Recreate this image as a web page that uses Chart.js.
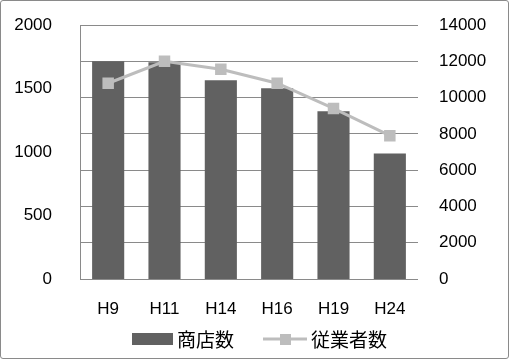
<!DOCTYPE html>
<html>
<head>
<meta charset="utf-8">
<script src="https://cdn.jsdelivr.net/npm/chart.js@4/dist/chart.umd.min.js"></script>
<style>
  html, body { margin: 0; padding: 0; background: #fff; }
  #wrap { position: relative; width: 509px; height: 359px; box-sizing: border-box; border: 1px solid #8a8a8a; border-radius: 3px; }
  canvas { display: block; }
</style>
</head>
<body>
<div id="wrap"><canvas id="c" width="507" height="357"></canvas></div>
<script>
// --- data ---
const categories = ["H9", "H11", "H14", "H16", "H19", "H24"];
const shopCounts = [1715, 1707, 1565, 1502, 1320, 988];        // 商店数 (left axis)
const workerCounts = [10790, 12000, 11560, 10790, 9400, 7900]; // 従業者数 (right axis)
const seriesNames = ["商店数", "従業者数"];

const FONT = "'Liberation Sans', 'Noto Sans CJK JP', sans-serif";
const BAR_COLOR = "#616161";
const LINE_COLOR = "#bdbdbd";

// draws the legend underneath (bar swatch + line with square marker)
const bottomLegend = {
    id: "bottomLegend",
    afterDraw(chart) {
        const ctx = chart.ctx;
        const y = 338;
        ctx.save();
        ctx.font = "19px 'Noto Sans CJK JP', sans-serif";
        ctx.textBaseline = "middle";

        // bar item
        ctx.fillStyle = BAR_COLOR;
        ctx.fillRect(131, y - 6, 41, 12);
        ctx.fillStyle = "#000";
        ctx.fillText(seriesNames[0], 176, y + 1);

        // line item
        ctx.strokeStyle = LINE_COLOR;
        ctx.lineWidth = 3;
        ctx.beginPath();
        ctx.moveTo(262, y);
        ctx.lineTo(306, y);
        ctx.stroke();
        ctx.fillStyle = LINE_COLOR;
        ctx.fillRect(279, y - 5, 11, 11);
        ctx.fillStyle = "#000";
        ctx.fillText(seriesNames[1], 310, y + 1);
        ctx.restore();
    }
};

const plain = (v) => String(v);

// fixed axis width, and don't let the tick padding push the plot area down
const fixAxis = (w) => (s) => { s.width = w; s.paddingTop = 0; s.paddingBottom = 0; };

new Chart(document.getElementById("c"), {
    data: {
        labels: categories,
        datasets: [
            {
                type: "line",
                label: seriesNames[1],
                data: workerCounts,
                yAxisID: "y2",
                borderColor: LINE_COLOR,
                backgroundColor: LINE_COLOR,
                borderWidth: 3,
                pointStyle: "rect",
                pointRadius: 6,
                pointHoverRadius: 6,
                tension: 0,
                order: 0
            },
            {
                type: "bar",
                label: seriesNames[0],
                data: shopCounts,
                yAxisID: "y",
                backgroundColor: BAR_COLOR,
                categoryPercentage: 1,
                barPercentage: 0.57,
                order: 1
            }
        ]
    },
    options: {
        responsive: false,
        animation: false,
        layout: { padding: { top: 24, bottom: 42, left: 0, right: 0 } },
        plugins: {
            legend: { display: false },
            tooltip: { enabled: false }
        },
        scales: {
            x: {
                grid: { display: false },
                border: { display: false },
                ticks: { color: "#000", font: { family: FONT, size: 17 }, padding: 12, maxRotation: 0 },
                afterFit: (s) => { s.height = 37; }
            },
            y: {
                position: "left",
                min: 0, max: 2000,
                grid: { display: false },
                border: { display: true, color: "#8a8a8a", width: 1 },
                ticks: { stepSize: 500, color: "#000", font: { family: FONT, size: 17 }, padding: 20, callback: plain },
                afterFit: fixAxis(79)
            },
            y2: {
                position: "right",
                min: 0, max: 14000,
                grid: { color: "#8a8a8a", lineWidth: 1, drawTicks: false },
                border: { display: false },
                ticks: { stepSize: 2000, color: "#000", font: { family: FONT, size: 17 }, padding: 21, callback: plain },
                afterFit: fixAxis(90)
            }
        }
    },
    plugins: [bottomLegend]
});
</script>
</body>
</html>
